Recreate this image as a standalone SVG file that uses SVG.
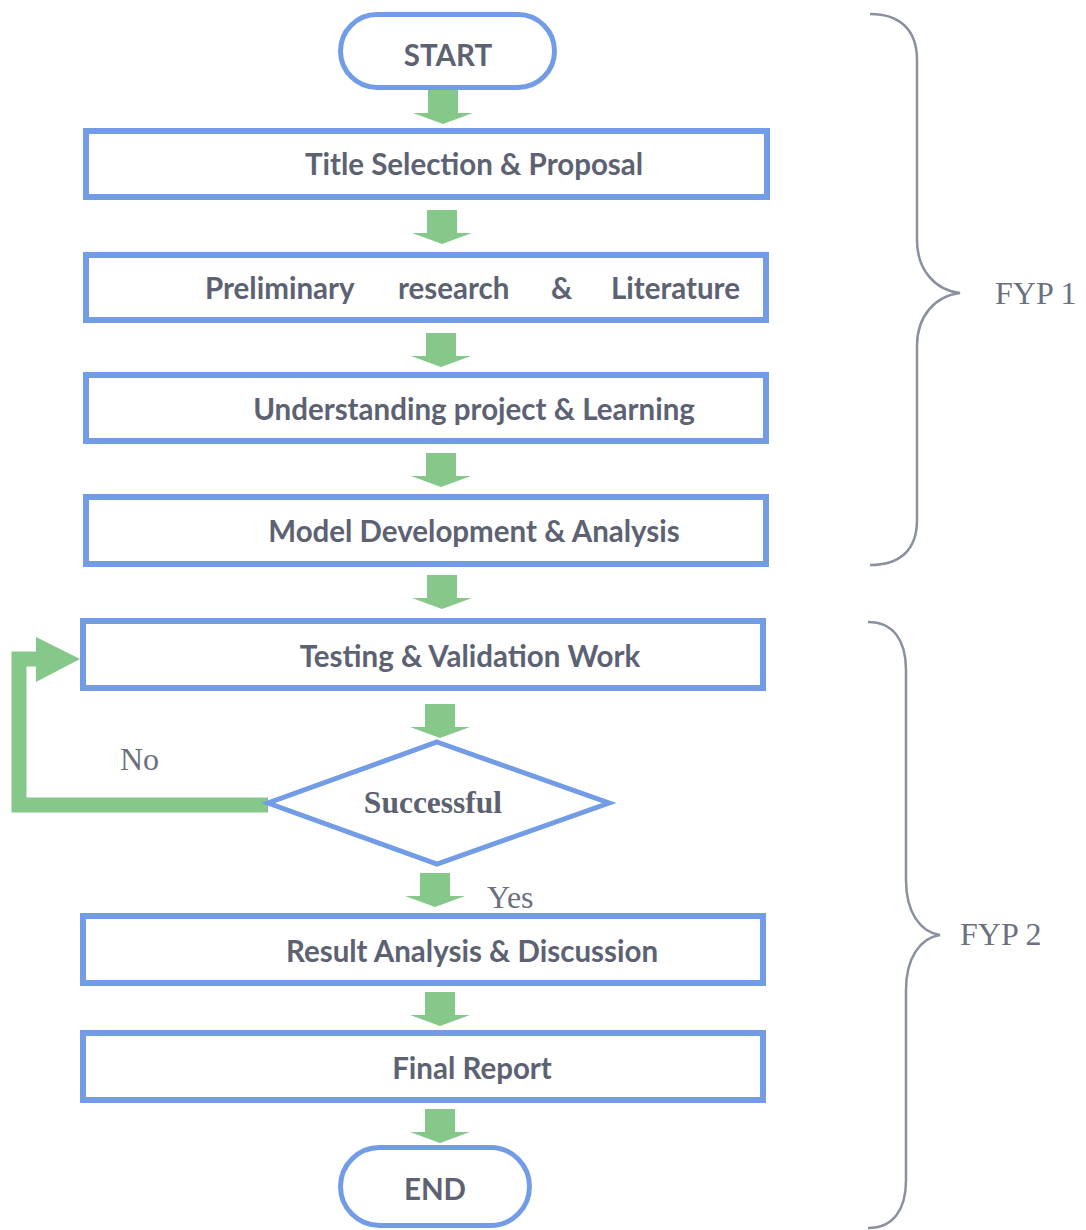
<svg xmlns="http://www.w3.org/2000/svg" xmlns:xlink="http://www.w3.org/1999/xlink" width="1086" height="1230" viewBox="0 0 1086 1230">
<style>
.box{fill:#ffffff;stroke:#729de6;stroke-width:6}
.pill{fill:#ffffff;stroke:#729de6;stroke-width:5}
.lbl{font-family:Lato,"Liberation Sans",sans-serif;font-weight:bold;font-size:29.5px;fill:#5d6273;text-anchor:middle}
.ser{font-family:"Liberation Serif","Times New Roman",serif;font-size:32px;fill:#6b7080}
.brace{fill:none;stroke:#8a90a0;stroke-width:2.5}
.arr{fill:#85c88a}
</style>
<defs>
<path id="arr" d="M-15,0 H15 V23 H30 L0,34 L-30,23 H-15 Z"/>
</defs>
<rect width="1086" height="1230" fill="#ffffff"/>
<g id="connectors" class="arr">
<use xlink:href="#arr" href="#arr" x="443" y="90"/>
<use xlink:href="#arr" href="#arr" x="442" y="210"/>
<use xlink:href="#arr" href="#arr" x="441" y="333"/>
<use xlink:href="#arr" href="#arr" x="441" y="453"/>
<use xlink:href="#arr" href="#arr" x="442" y="575"/>
<use xlink:href="#arr" href="#arr" x="440" y="704"/>
<use xlink:href="#arr" href="#arr" x="435" y="873"/>
<use xlink:href="#arr" href="#arr" x="440" y="992"/>
<use xlink:href="#arr" href="#arr" x="440" y="1109"/>
<path d="M268,805 H19 V659 H40" fill="none" stroke="#85c88a" stroke-width="15" stroke-linejoin="miter"/>
<polygon points="36,637 80,659 36,682"/>
</g>
<g id="start">
<rect class="pill" x="340.5" y="14.5" width="214" height="73" rx="36.5"/>
<text class="lbl" x="448" y="66">START</text>
</g>
<g id="title">
<rect class="box" x="86" y="131" width="681" height="66"/>
<text class="lbl" x="474" y="175">Title Selection &amp; Proposal</text>
</g>
<g id="prelim">
<rect class="box" x="86" y="255" width="680" height="65"/>
<text class="lbl" y="299" style="text-anchor:start"><tspan x="205">Preliminary</tspan><tspan x="398">research</tspan><tspan x="551">&amp;</tspan><tspan x="611">Literature</tspan></text>
</g>
<g id="understanding">
<rect class="box" x="86" y="375" width="680" height="66"/>
<text class="lbl" x="474" y="420">Understanding project &amp; Learning</text>
</g>
<g id="model">
<rect class="box" x="86" y="497" width="680" height="67"/>
<text class="lbl" x="474" y="542">Model Development &amp; Analysis</text>
</g>
<g id="testing">
<rect class="box" x="83" y="621" width="680" height="67"/>
<text class="lbl" x="470" y="667">Testing &amp; Validation Work</text>
</g>
<g id="decision">
<polygon points="437,742 609,803 437,864 268,803" fill="#ffffff" stroke="#729de6" stroke-width="5"/>
<text x="433" y="813" style="font-family:'Liberation Serif','Times New Roman',serif;font-weight:bold;font-size:31.5px;fill:#5d6273;text-anchor:middle">Successful</text>
</g>
<g id="labels">
<text class="ser" x="120" y="770">No</text>
<text class="ser" x="487" y="908">Yes</text>
</g>
<g id="result">
<rect class="box" x="83" y="916" width="680" height="67"/>
<text class="lbl" x="472" y="962">Result Analysis &amp; Discussion</text>
</g>
<g id="final">
<rect class="box" x="83" y="1033" width="680" height="67"/>
<text class="lbl" x="472" y="1079">Final Report</text>
</g>
<g id="end">
<rect class="pill" x="340.5" y="1147.5" width="189" height="78" rx="39"/>
<text class="lbl" x="435" y="1200">END</text>
</g>
<g id="fyp1">
<path class="brace" d="M870,14 C900,14 917,30 917,60 V240 C917,270 935,290 960,293 C935,296 917,316 917,346 V520 C917,550 900,565 870,565"/>
<text class="ser" x="995" y="304">FYP 1</text>
</g>
<g id="fyp2">
<path class="brace" d="M868,622 C893,622 906,640 906,670 V880 C906,912 920,932 940,935 C920,938 906,958 906,990 V1180 C906,1210 893,1228 868,1228"/>
<text class="ser" x="960" y="945">FYP 2</text>
</g>
</svg>
